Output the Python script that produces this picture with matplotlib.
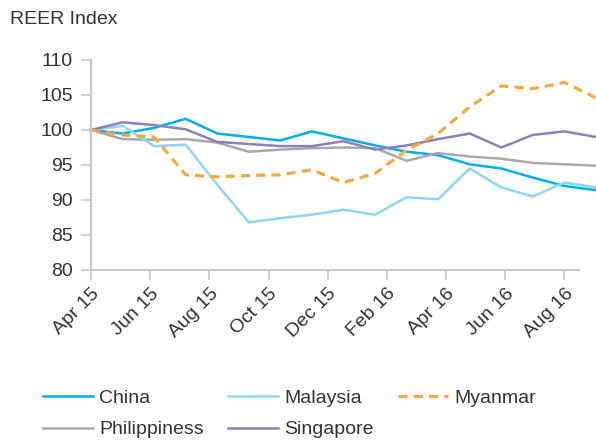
import matplotlib.pyplot as plt
import numpy as np

plt.rcParams['font.family'] = ['Liberation Sans', 'DejaVu Sans']

# REER index values, monthly (17 points)
china = [100, 99.5, 100.3, 101.6, 99.5, 99.0, 98.5, 99.8, 98.8, 97.8, 96.9, 96.4,
         95.1, 94.5, 93.2, 92.0, 91.4]
malaysia = [100, 100.6, 97.7, 97.9, 92.2, 86.8, 87.4, 87.9, 88.6, 87.9, 90.4, 90.1,
            94.5, 91.8, 90.5, 92.5, 91.8]
myanmar = [100, 99.3, 99.0, 93.6, 93.3, 93.5, 93.6, 94.3, 92.5, 93.8, 97.1, 99.5,
           103.3, 106.3, 105.9, 106.8, 104.6]
philippines = [100, 98.7, 98.6, 98.7, 98.2, 96.9, 97.2, 97.4, 97.5, 97.4, 95.6, 96.7,
               96.2, 95.9, 95.3, 95.1, 94.9]
singapore = [100, 101.1, 100.7, 100.1, 98.3, 98.0, 97.7, 97.7, 98.4, 97.2, 97.8, 98.7,
             99.5, 97.5, 99.3, 99.8, 99.0]

tick_labels = ['Apr 15', 'Jun 15', 'Aug 15', 'Oct 15', 'Dec 15',
               'Feb 16', 'Apr 16', 'Jun 16', 'Aug 16']

x = np.arange(len(china))
grey_txt = '#333333'
axis_col = '#c8c8c8'

fig = plt.figure(figsize=(5.96, 4.4), dpi=100)
ax = fig.add_axes([91 / 596, 1 - 270 / 440, 1 - 91 / 596, 210 / 440])

ax.plot(x, china, color='#00aeef', lw=1.8, label='China', clip_on=False)
ax.plot(x, philippines, color='#a7a9ac', lw=1.8, label='Philippiness', clip_on=False)
ax.plot(x, malaysia, color='#8fd6f6', lw=1.8, label='Malaysia', clip_on=False)
ax.plot(x, singapore, color='#8c80bf', lw=1.8, label='Singapore', clip_on=False)
ax.plot(x, myanmar, color='#f9a63a', lw=2.2, ls=(0, (3, 2)), label='Myanmar', clip_on=False)

ax.set_xlim(0, 16)
ax.set_ylim(80, 110)
ax.set_yticks(np.arange(80, 111, 5))
ax.set_xticks(np.linspace(0, 15, len(tick_labels)))
ax.set_xticklabels(tick_labels, rotation=45, ha='right', rotation_mode='anchor')

for s in ['top', 'right']:
    ax.spines[s].set_visible(False)
for s in ['left', 'bottom']:
    ax.spines[s].set_color(axis_col)
    ax.spines[s].set_linewidth(1.5)
ax.spines['bottom'].set_bounds(0, 15.47)
ax.tick_params(axis='both', colors=axis_col, labelcolor=grey_txt, labelsize=14,
               length=7, width=1.2)
ax.tick_params(axis='y', pad=6)
ax.tick_params(axis='x', pad=4)

fig.text(10 / 596, 1 - 20 / 440, 'REER Index', fontsize=14, color=grey_txt, va='center')

fig.legend(loc='lower left', bbox_to_anchor=(25 / 596, -0.036), ncol=3, frameon=False,
           fontsize=14, handlelength=2.6, handletextpad=0.32, columnspacing=1.22,
           labelspacing=0.7, labelcolor=grey_txt)

fig.savefig('out.png', dpi=100)
